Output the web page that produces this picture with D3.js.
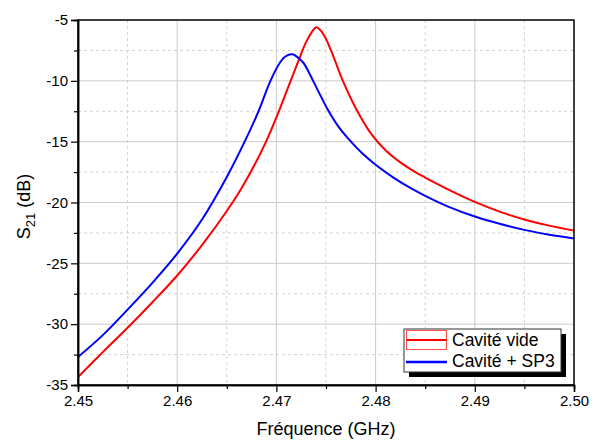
<!DOCTYPE html>
<html>
<head>
<meta charset="utf-8">
<script src="https://cdn.jsdelivr.net/npm/d3@7"></script>
<style>
body { margin: 0; background: #fff; }
text { font-family: Arial, "Liberation Sans", sans-serif; fill: #000; }
</style>
</head>
<body>
<div id="visual"></div>
<script>
// values
let freqRed = [2.450, 2.4525, 2.455, 2.4575, 2.460, 2.4625, 2.465, 2.4665, 2.4678, 2.4689, 2.4700, 2.4712,
    2.4722, 2.4730, 2.4736, 2.4740, 2.4744, 2.4749, 2.4755, 2.4761, 2.4767, 2.4781, 2.4795, 2.4810,
    2.4825, 2.4840, 2.485, 2.4875, 2.490, 2.4925, 2.495, 2.4975, 2.500]
let s21Red = [-34.35, -32.3, -30.3, -28.2, -26.0, -23.5, -20.7, -18.8, -16.9, -15.1, -13.0, -10.5,
    -8.4, -6.8, -5.95, -5.6, -5.8, -6.4, -7.5, -8.75, -10.0, -12.4, -14.3, -15.7,
    -16.7, -17.5, -17.95, -19.0, -19.95, -20.75, -21.4, -21.9, -22.3]

let freqBlue = [2.450, 2.4525, 2.455, 2.4575, 2.460, 2.4625, 2.465, 2.4668, 2.4682, 2.4694, 2.4704, 2.4709,
    2.4716, 2.4724, 2.4728, 2.4737, 2.4745, 2.4752, 2.4762, 2.4774, 2.4787, 2.480, 2.4818, 2.4835,
    2.485, 2.4875, 2.490, 2.4925, 2.495, 2.4975, 2.500]
let s21Blue = [-32.7, -30.9, -28.8, -26.6, -24.2, -21.4, -17.9, -15.0, -12.5, -10.0, -8.45, -8.0,
    -7.82, -8.25, -8.6, -10.0, -11.3, -12.4, -13.7, -14.9, -16.0, -16.9, -17.95, -18.8,
    -19.45, -20.4, -21.15, -21.75, -22.25, -22.65, -22.95]

let seriesNames = ["Cavité vide", "Cavité + SP3"]

let xTicks = [2.45, 2.46, 2.47, 2.48, 2.49, 2.50]
let xMinorTicks = [2.455, 2.465, 2.475, 2.485, 2.495]
let yTicks = [-5, -10, -15, -20, -25, -30, -35]
let yMinorTicks = [-7.5, -12.5, -17.5, -22.5, -27.5, -32.5]

var margin = { top: 20, right: 21, bottom: 56, left: 78 },
    width = 595 - margin.left - margin.right,
    height = 441 - margin.top - margin.bottom;

var svg = d3.select("#visual")
    .append("svg")
    .attr("width", 595)
    .attr("height", 441)
    .append("g")
    .attr("transform", "translate(" + margin.left + "," + margin.top + ")");

let x = d3.scaleLinear().domain([2.45, 2.50]).range([0, width])
let y = d3.scaleLinear().domain([-35, -5]).range([height, 0])

// grid
svg.selectAll("minorV").data(xMinorTicks).enter().append("line")
    .attr("x1", d => x(d)).attr("x2", d => x(d)).attr("y1", 0).attr("y2", height)
    .attr("stroke", "#d2d2d2").attr("stroke-dasharray", "3,3")
svg.selectAll("minorH").data(yMinorTicks).enter().append("line")
    .attr("y1", d => y(d)).attr("y2", d => y(d)).attr("x1", 0).attr("x2", width)
    .attr("stroke", "#d2d2d2").attr("stroke-dasharray", "3,3")
svg.selectAll("majorV").data(xTicks.slice(1, -1)).enter().append("line")
    .attr("x1", d => x(d)).attr("x2", d => x(d)).attr("y1", 0).attr("y2", height)
    .attr("stroke", "#cccccc")
svg.selectAll("majorH").data(yTicks.slice(1, -1)).enter().append("line")
    .attr("y1", d => y(d)).attr("y2", d => y(d)).attr("x1", 0).attr("x2", width)
    .attr("stroke", "#cccccc")

// curves
let line = d3.line().x(d => x(d[0])).y(d => y(d[1])).curve(d3.curveCatmullRom.alpha(0.5))

svg.append("path")
    .datum(d3.zip(freqRed, s21Red))
    .attr("d", line)
    .attr("fill", "none")
    .attr("stroke", "#ff0000")
    .attr("stroke-width", 2)

svg.append("path")
    .datum(d3.zip(freqBlue, s21Blue))
    .attr("d", line)
    .attr("fill", "none")
    .attr("stroke", "#0000ff")
    .attr("stroke-width", 2)

// frame
svg.append("rect")
    .attr("width", width).attr("height", height)
    .attr("fill", "none").attr("stroke", "#000").attr("stroke-width", 1.5)

// axes
svg.append("g")
    .attr("transform", "translate(0," + height + ")")
    .call(d3.axisBottom(x).tickValues(xTicks).tickFormat(d3.format(".2f")).tickSizeOuter(0).tickSize(7).tickPadding(3))
svg.append("g")
    .attr("transform", "translate(0," + height + ")")
    .call(d3.axisBottom(x).tickValues(xMinorTicks).tickFormat("").tickSizeOuter(0).tickSize(4))

svg.append("g")
    .call(d3.axisLeft(y).tickValues(yTicks).tickFormat(d => String(d)).tickSizeOuter(0).tickSize(7).tickPadding(3))
svg.append("g")
    .call(d3.axisLeft(y).tickValues(yMinorTicks).tickFormat("").tickSizeOuter(0).tickSize(4))

svg.selectAll(".domain").attr("stroke", "#000").attr("stroke-width", 1.5)
svg.selectAll(".tick line").attr("stroke", "#000").attr("stroke-width", 1.2)
svg.selectAll(".tick text").attr("font-size", 15).attr("fill", "#000")
    .style("font-family", "Arial, 'Liberation Sans', sans-serif")

// axis titles
svg.append("text")
    .attr("x", width / 2)
    .attr("y", height + 50)
    .attr("text-anchor", "middle")
    .attr("font-size", 18)
    .text("Fréquence (GHz)")

let yTitle = svg.append("text")
    .attr("transform", "translate(" + (-48) + "," + (height / 2 + 4) + ") rotate(-90)")
    .attr("text-anchor", "middle")
    .attr("font-size", 18)
yTitle.append("tspan").text("S")
yTitle.append("tspan").attr("font-size", 13).attr("dy", 5).text("21")
yTitle.append("tspan").attr("dy", -5).text("\u00a0(dB)")

// legend
let legend = svg.append("g").attr("transform", "translate(" + (width - 170) + "," + (height - 56) + ")")
legend.append("rect")
    .attr("x", 5).attr("y", 5).attr("width", 157).attr("height", 43)
    .attr("fill", "#000")
legend.append("rect")
    .attr("x", 0).attr("y", 0).attr("width", 157).attr("height", 43)
    .attr("fill", "#fff").attr("stroke", "#333").attr("stroke-width", 1)
legend.append("rect")
    .attr("x", 2.5).attr("y", 1.5).attr("width", 40).attr("height", 19)
    .attr("fill", "none").attr("stroke", "#ff5050").attr("stroke-width", 1)
legend.append("line")
    .attr("x1", 2.5).attr("x2", 42.5).attr("y1", 11).attr("y2", 11)
    .attr("stroke", "#ff0000").attr("stroke-width", 2)
legend.append("line")
    .attr("x1", 2).attr("x2", 43).attr("y1", 33).attr("y2", 33)
    .attr("stroke", "#0000ff").attr("stroke-width", 2.5)
legend.selectAll("labels")
    .data(seriesNames)
    .enter()
    .append("text")
    .attr("x", 48)
    .attr("y", (d, i) => 17 + i * 21)
    .attr("font-size", 17.5)
    .text(d => d)
</script>
</body>
</html>
